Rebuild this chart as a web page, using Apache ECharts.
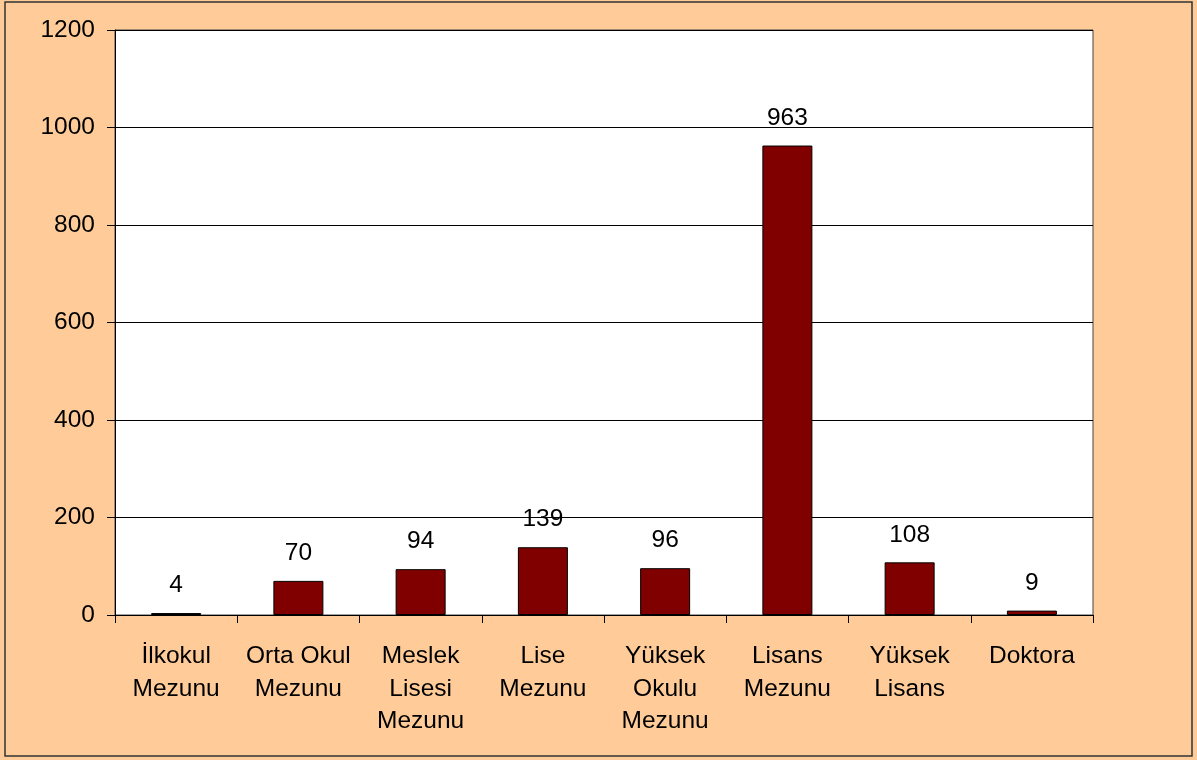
<!DOCTYPE html>
<html>
<head>
    <meta charset="utf-8">
    <title>Eğitim Durumu</title>
    <script src="https://cdn.jsdelivr.net/npm/echarts@6/dist/echarts.min.js"></script>
    <style>
        body { margin: 0; background: #ffffff; }
        #main { width: 1197px; height: 760px; }
    </style>
</head>
<body>
<div id="main"></div>
<script type="text/javascript">
    // kategoriler ve değerler
    var categories = ['İlkokul\nMezunu', 'Orta Okul\nMezunu', 'Meslek\nLisesi\nMezunu', 'Lise\nMezunu',
        'Yüksek\nOkulu\nMezunu', 'Lisans\nMezunu', 'Yüksek\nLisans', 'Doktora'];
    var values = [4, 70, 94, 139, 96, 963, 108, 9];
    var yMin = 0, yMax = 1200, yStep = 200;

    var myChart = echarts.init(document.getElementById('main'));

    var option = {
        backgroundColor: '#FFCC99',
        textStyle: { fontFamily: 'Liberation Sans, Arial, sans-serif' },
        graphic: [{
            type: 'rect',
            shape: { x: 5, y: 2, width: 1187, height: 754 },
            style: { fill: 'none', stroke: '#333333', lineWidth: 1.5 },
            z: 100
        }],
        grid: {
            left: 115, right: 104, top: 30, bottom: 145,
            show: true,
            backgroundColor: '#ffffff',
            borderColor: '#444444',
            borderWidth: 1
        },
        xAxis: {
            type: 'category',
            data: categories,
            axisLine: { lineStyle: { color: '#000', width: 1 } },
            axisTick: { show: true, length: 8, alignWithLabel: false, lineStyle: { color: '#000' } },
            axisLabel: {
                color: '#000', fontSize: 24.5, lineHeight: 32.5, margin: 25, interval: 0
            }
        },
        yAxis: {
            type: 'value',
            min: yMin, max: yMax, interval: yStep,
            axisLine: { show: true, lineStyle: { color: '#000', width: 1 } },
            axisTick: { show: true, length: 8, lineStyle: { color: '#000' } },
            axisLabel: { color: '#000', fontSize: 24.5, margin: 20, formatter: function (v) { return String(v); } },
            splitLine: { lineStyle: { color: '#000', width: 1 } }
        },
        series: [{
            type: 'bar',
            data: values,
            barWidth: 50,
            itemStyle: { color: '#800000', borderColor: '#000', borderWidth: 1 },
            label: {
                show: true, position: 'top', distance: 15,
                color: '#000', fontSize: 24.5
            }
        }]
    };
    myChart.setOption(option);
</script>
</body>
</html>
